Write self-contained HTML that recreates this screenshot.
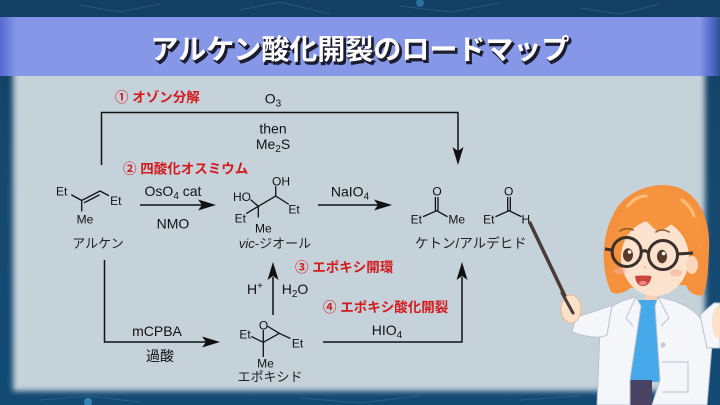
<!DOCTYPE html>
<html><head><meta charset="utf-8">
<style>
html,body{margin:0;padding:0;background:#14456b;}
svg{display:block;}
text{font-family:"Liberation Sans","Noto Sans CJK JP",sans-serif;}
</style></head><body>
<svg width="720" height="405" viewBox="0 0 720 405" xmlns="http://www.w3.org/2000/svg">
<defs>
<linearGradient id="bg" x1="0" y1="0" x2="0" y2="1">
 <stop offset="0" stop-color="#123f63"/>
 <stop offset="0.5" stop-color="#17496f"/>
 <stop offset="1" stop-color="#124a74"/>
</linearGradient>
<filter id="blur" x="-5%" y="-5%" width="110%" height="110%"><feGaussianBlur stdDeviation="3"/></filter>
<linearGradient id="ban" x1="0" x2="1">
 <stop offset="0" stop-color="#5468cf"/>
 <stop offset="0.022" stop-color="#8597e6"/>
 <stop offset="0.972" stop-color="#8597e6"/>
 <stop offset="0.985" stop-color="#5c72d2"/>
 <stop offset="1" stop-color="#2f5196"/>
</linearGradient>
</defs>
<rect width="720" height="405" fill="url(#bg)"/>
<g stroke="#4a86ad" stroke-opacity="0.35" fill="none" stroke-width="1">
 <path d="M80,5 L120,12 L160,4 M240,10 L280,2 L330,14 M400,6 L450,12 L500,3 M580,8 L620,14 L660,4"/>
 <path d="M40,400 L90,396 L140,402 M300,398 L360,403 L420,396 M520,400 L580,396"/>
</g>
<circle cx="88" cy="402" r="4" fill="#3f90c8" opacity="0.8"/>
<circle cx="420" cy="3" r="4" fill="#3f90c8" opacity="0.6"/>
<rect x="13" y="70" width="692" height="321" fill="#c6d2da" filter="url(#blur)"/>
<rect x="0" y="17" width="720" height="59" fill="url(#ban)"/>

<!-- title -->
<text x="362" y="61.5" font-size="28" font-weight="bold" fill="#1c1c30" text-anchor="middle" stroke="#1c1c30" stroke-width="1.5">アルケン酸化開裂のロードマップ</text>
<text x="360" y="59" font-size="28" font-weight="bold" fill="#ffffff" text-anchor="middle">アルケン酸化開裂のロードマップ</text>

<!-- connectors -->
<g stroke="#111" stroke-width="1.5" fill="none">
 <path d="M101.5,165 V112.5 H458 V152"/>
 <path d="M140,205 H203"/>
 <path d="M318,205 H379"/>
 <path d="M104.5,260 V342 H207"/>
 <path d="M273,315 V277"/>
 <path d="M323,342 H462 V277"/>
</g>
<g fill="#111">
 <polygon points="458,165 452.5,147 458,151 463.5,147"/>
 <polygon points="216,205 198,199.5 202,205 198,210.5"/>
 <polygon points="392,205 374,199.5 378,205 374,210.5"/>
 <polygon points="220,342 202,336.5 206,342 202,347.5"/>
 <polygon points="273,262 267.5,280 273,276 278.5,280"/>
 <polygon points="462,262 456.5,280 462,276 467.5,280"/>
</g>

<!-- bonds -->
<g stroke="#111" stroke-width="1.3" fill="none" stroke-linecap="round">
 <path d="M71.7,195 L81.7,200.5 L100,191 L108.5,195.5 M81.7,200.5 V211 M84.6,202.6 L99.2,195"/>
 <path d="M251,200 L258.3,206.3 L275.7,196 L275.7,186.7 M258.3,206.3 L246.7,213.3 M258.3,206.3 V217 M275.7,196 L288.3,204"/>
 <path d="M436.7,210.7 L423.5,216.5 M436.7,210.7 L447,216.5 M435.4,197.5 V210.7 M438,197.5 V210.7"/>
 <path d="M509,210.7 L496,216.5 M509,210.7 L521,216.5 M507.7,197.5 V210.7 M510.3,197.5 V210.7"/>
 <path d="M251.7,336.7 L263.3,342.3 L279.3,333.3 L290,338.3 M263.3,342.3 V356.5 M263.3,342.3 V330.5 M268,326.5 L279.3,333.3"/>
</g>

<!-- reagent text -->
<g font-size="14" fill="#111" text-anchor="middle">
 <text x="273" y="103.3">O<tspan font-size="10" dy="3">3</tspan></text>
 <text x="273" y="133.3">then</text>
 <text x="273" y="149">Me<tspan font-size="10" dy="3">2</tspan><tspan dy="-3">S</tspan></text>
 <text x="173" y="196">OsO<tspan font-size="10" dy="3">4</tspan><tspan dy="-3"> cat</tspan></text>
 <text x="173" y="228.3">NMO</text>
 <text x="350" y="196.7">NaIO<tspan font-size="10" dy="3">4</tspan></text>
 <text x="157" y="336">mCPBA</text>
 <text x="160" y="361">過酸</text>
 <text x="255" y="294">H<tspan font-size="10" dy="-5">+</tspan></text>
 <text x="295" y="294">H<tspan font-size="10" dy="3">2</tspan><tspan dy="-3">O</tspan></text>
 <text x="387" y="335">HIO<tspan font-size="10" dy="3">4</tspan></text>
</g>

<!-- atoms -->
<g font-size="12" fill="#111" text-anchor="middle">
 <text x="61.7" y="195.3">Et</text>
 <text x="115.8" y="205">Et</text>
 <text x="85" y="223.6">Me</text>
 <text x="281" y="185.3">OH</text>
 <text x="242" y="201">HO</text>
 <text x="240.3" y="222.6">Et</text>
 <text x="294" y="213.3">Et</text>
 <text x="263.3" y="232.6">Me</text>
 <text x="437" y="195.3">O</text>
 <text x="416.3" y="223.6">Et</text>
 <text x="456.7" y="223.6">Me</text>
 <text x="508.7" y="195.3">O</text>
 <text x="488.8" y="223.6">Et</text>
 <text x="525.8" y="223.6">H</text>
 <text x="263.5" y="329.3">O</text>
 <text x="245" y="338.3">Et</text>
 <text x="297.5" y="347.3">Et</text>
 <text x="265.5" y="367.3">Me</text>
</g>

<!-- names -->
<g font-size="13" fill="#222" text-anchor="middle">
 <text x="98" y="247.8">アルケン</text>
 <text x="275" y="247.8"><tspan font-style="italic">vic</tspan>-ジオール</text>
 <text x="470.8" y="247.8" font-size="13.5">ケトン/アルデヒド</text>
 <text x="270" y="381.5">エポキシド</text>
</g>

<!-- red labels -->
<g font-size="13.5" font-weight="bold" fill="#d21a1c">
 <text x="115" y="101.8">① オゾン分解</text>
 <text x="123" y="173.4">② 四酸化オスミウム</text>
 <text x="295" y="272">③ エポキシ開環</text>
 <text x="323" y="312">④ エポキシ酸化開裂</text>
</g>

<!-- pointer -->
<line x1="530" y1="223" x2="573" y2="313" stroke="#4b3b38" stroke-width="3.5" stroke-linecap="round"/>

<!-- character -->
<g>
 <!-- back hair -->
 <path d="M611,292 C599,265 602,228 619,205 C634,188 655,183 673,186 C696,191 711,216 709,250 C708,270 708,284 703,295 C695,297 688,292 686,285 L630,288 C625,293 617,295 611,292 Z" fill="#f5913c"/>
 <!-- neck -->
 <rect x="645" y="290" width="15" height="14" fill="#f5d0b5"/>
 <!-- face -->
 <ellipse cx="655" cy="258" rx="34" ry="38" fill="#fde3cd"/>
 <ellipse cx="692" cy="265" rx="6" ry="9" fill="#fbd6bd"/>
 <!-- bangs -->
 <path d="M617,246 C614,214 632,192 655,189 C681,187 701,205 705,236 L701,252 C696,240 692,234 687,241 C684,229 679,222 673,223 C668,227 662,231 657,231 C652,227 648,222 643,219 C635,225 628,233 622,241 Z" fill="#f6953e"/>
 <path d="M628,206 C633,199 640,196 646,196 M682,200 C688,204 692,210 694,216" stroke="#fbbd7a" stroke-width="3" fill="none" stroke-linecap="round"/>
 <!-- cheeks -->
 <ellipse cx="620" cy="271" rx="6" ry="3.5" fill="#f7ab98" opacity="0.6"/>
 <ellipse cx="676" cy="273" rx="6" ry="3.5" fill="#f7ab98" opacity="0.6"/>
 <!-- brows -->
 <path d="M620,231 Q626,227 633,230 M656,232 Q662,228 669,232" stroke="#8a5a3a" stroke-width="1.6" fill="none" stroke-linecap="round"/>
 <!-- eyes -->
 <ellipse cx="628" cy="255" rx="5" ry="6.8" fill="#5a3a2a"/>
 <ellipse cx="662" cy="256.5" rx="5" ry="6.8" fill="#5a3a2a"/>
 <circle cx="629.6" cy="252" r="1.8" fill="#fff"/>
 <circle cx="663.6" cy="253.5" r="1.8" fill="#fff"/>
 <!-- glasses -->
 <g stroke="#3a302c" stroke-width="3" fill="none">
  <circle cx="626.7" cy="252" r="14.5"/>
  <circle cx="663" cy="255" r="14.5"/>
  <path d="M641,252 Q645,249 648.5,253 M612,250 L605,249 M677.5,254 L693,253"/>
 </g>
 <!-- mouth -->
 <path d="M635,276 Q643,275 651.5,276 Q650,286 643,286 Q636,286 635,276 Z" fill="#c9463c"/>
 <ellipse cx="643" cy="283" rx="4" ry="2" fill="#f08a80"/>
 <circle cx="645" cy="267" r="1" fill="#e9a88a"/>
 <!-- body -->
 <path d="M638,300 L657,300 L662,382 L630,382 Z" fill="#45a9ea"/>
 <rect x="630" y="380" width="22" height="25" fill="#4a4262"/>
 <path d="M597,405 L600,330 C602,312 612,302 636,297 L641,306 L630,380 L630,405 Z" fill="#f4f6f9" stroke="#b8c2d2" stroke-width="1"/>
 <path d="M658,297 C685,302 700,312 707,330 L712,345 L707,405 L652,405 L660,380 L655,306 Z" fill="#f4f6f9" stroke="#b8c2d2" stroke-width="1"/>
 <path d="M636,297 L626,318 L633,326 M658,297 L669,318 L661,326" stroke="#b8c2d2" fill="none"/>
 <path d="M662,362 L688,362 L688,392 L662,392" stroke="#b8c2d2" fill="none"/>
 <circle cx="663" cy="345" r="2.5" fill="#c3c9dc"/>
 <!-- left arm -->
 <path d="M612,305 C600,310 586,314 576,317 L572,332 C585,337 600,339 607,335 Z" fill="#f4f6f9" stroke="#b8c2d2" stroke-width="1"/>
 <ellipse cx="571" cy="309" rx="10" ry="14" fill="#fde0c8" stroke="#e8b898" stroke-width="1"/>
 <line x1="562" y1="293" x2="573" y2="313" stroke="#4b3b38" stroke-width="3" stroke-linecap="round"/>
 <!-- right arm -->
 <path d="M700,315 L714,303 L720,303 L720,348 L707,348 Z" fill="#f4f6f9" stroke="#b8c2d2" stroke-width="1"/>
 <ellipse cx="718" cy="322" rx="6" ry="16" fill="#fde0c8"/>
</g>
</svg>
</body></html>
